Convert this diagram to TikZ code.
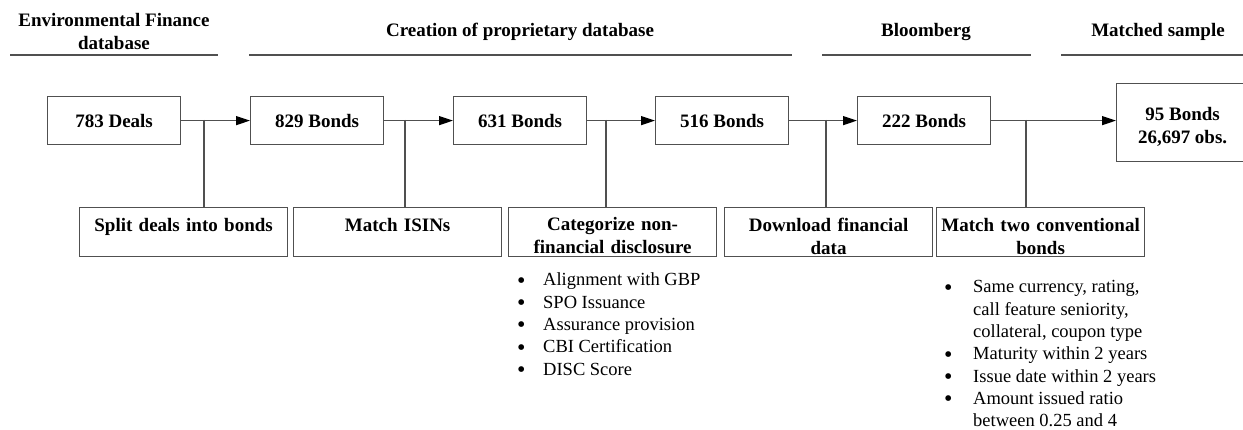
\documentclass[tikz,border=0pt]{standalone}
\usepackage{fontspec}
\setmainfont{Liberation Serif}
\usetikzlibrary{arrows.meta}
\definecolor{linegray}{RGB}{80,80,80}
\newcommand{\bigbul}{\raisebox{-2.5pt}[0pt][0pt]{\fontsize{24}{0}\selectfont\textbullet}}
\newcommand{\pushdown}{\rule{0pt}{21pt}}
\begin{document}
\begin{tikzpicture}[x=1pt,y=-1pt,
  lbl/.style={font=\fontsize{19}{23}\selectfont\bfseries, align=center, text=black},
  topbox/.style={draw=linegray, line width=1.2pt, minimum width=133pt, minimum height=48pt, inner sep=0pt, lbl, anchor=north west},
  botbox/.style={draw=linegray, line width=1.2pt, text width=200pt, inner xsep=4pt, inner ysep=0pt, minimum height=49pt, lbl, anchor=north west},
  hdr/.style={lbl, inner sep=0pt},
  rule/.style={draw=linegray, line width=1.2pt},
  conn/.style={draw=linegray, line width=1.2pt},
  arr/.style={conn, -{Triangle[length=14pt,width=9pt,color=black]}},
  blist/.style={font=\fontsize{18.5}{22.3}\selectfont, inner sep=0pt, anchor=north west, text=black}
]
\useasboundingbox (0,0) rectangle (1243,430);

% headers
\node[hdr] (h1) at (114,31.5) {Environmental Finance\\database};
\node[hdr] (h2) at (520,32) {Creation of proprietary database};
\node[hdr] (h3) at (926,32) {Bloomberg};
\node[hdr] (h4) at (1158,32) {Matched sample};
\coordinate (r1a) at (10,55);   \coordinate (r1b) at (218,55);
\coordinate (r2a) at (249,55);  \coordinate (r2b) at (792,55);
\coordinate (r3a) at (822,55);  \coordinate (r3b) at (1031,55);
\coordinate (r4a) at (1061,55); \coordinate (r4b) at (1243,55);
\draw[rule] (r1a) -- (r1b);
\draw[rule] (r2a) -- (r2b);
\draw[rule] (r3a) -- (r3b);
\draw[rule] (r4a) -- (r4b);

% top row
\node[topbox] (b1) at (47,96) {783 Deals};
\node[topbox] (b2) at (250,96) {829 Bonds};
\node[topbox] (b3) at (453,96) {631 Bonds};
\node[topbox] (b4) at (655,96) {516 Bonds};
\node[topbox] (b5) at (857,96) {222 Bonds};
\node[topbox, minimum width=132pt, minimum height=78pt] (b6) at (1116,83) {\rule{0pt}{21pt}95 Bonds\\26,697 obs.};

% bottom row
\node[botbox] (s1) at (79,207) {\pushdown Split deals into bonds\\\mbox{}};
\node[botbox] (s2) at (293,207) {\pushdown Match ISINs\\\mbox{}};
\node[botbox] (s3) at (508,207) {\pushdown Categorize non-\\financial disclosure};
\node[botbox] (s4) at (724,207) {\pushdown Download financial\\data};
\node[botbox] (s5) at (936,207) {\pushdown Match two conventional\\bonds};

% arrows
\draw[arr] (b1.east) -- (b2.west);
\draw[arr] (b2.east) -- (b3.west);
\draw[arr] (b3.east) -- (b4.west);
\draw[arr] (b4.east) -- (b5.west);
\draw[arr] (b5.east) -- (b5.east -| b6.west);

% junction drops
\coordinate (j1) at (204,120);
\coordinate (j2) at (405,120);
\coordinate (j3) at (606,120);
\coordinate (j4) at (826,120);
\coordinate (j5) at (1026,120);
\draw[conn] (j1) -- (j1 |- s1.north);
\draw[conn] (j2) -- (j2 |- s2.north);
\draw[conn] (j3) -- (j3 |- s3.north);
\draw[conn] (j4) -- (j4 |- s4.north);
\draw[conn] (j5) -- (j5 |- s5.north);

% bullet lists
\node[blist] (l1) at (517,270) {\begin{tabular}{@{}p{26pt}@{}l@{}}
\bigbul & Alignment with GBP\\
\bigbul & SPO Issuance\\
\bigbul & Assurance provision\\
\bigbul & CBI Certification\\
\bigbul & DISC Score
\end{tabular}};
\node[blist] (l2) at (944,277) {\begin{tabular}{@{}p{29pt}@{}l@{}}
\bigbul & Same currency, rating,\\
 & call feature seniority,\\
 & collateral, coupon type\\
\bigbul & Maturity within 2 years\\
\bigbul & Issue date within 2 years\\
\bigbul & Amount issued ratio\\
 & between 0.25 and 4
\end{tabular}};
\end{tikzpicture}
\end{document}
